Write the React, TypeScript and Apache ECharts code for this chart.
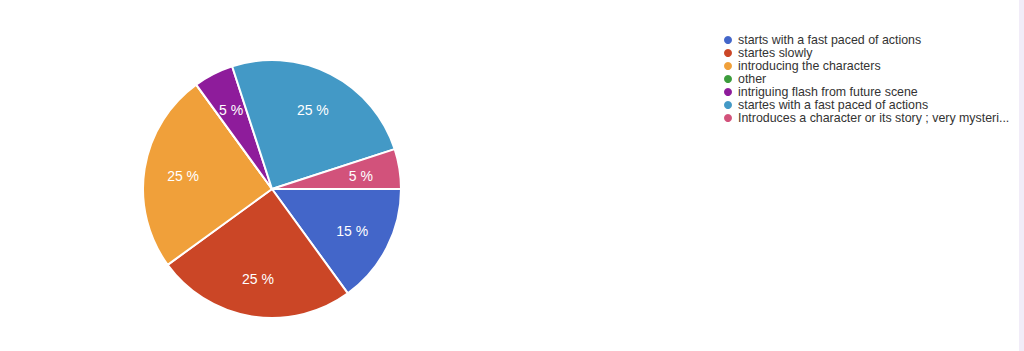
import React, { useEffect, useRef } from "react";
import * as echarts from "echarts";

const categories = [
  "starts with a fast paced of actions",
  "startes slowly",
  "introducing the characters",
  "other",
  "intriguing flash from future scene",
  "startes with a fast paced of actions",
  "Introduces a character or its story ; very mysteri...",
];
const values = [15, 25, 25, 0, 5, 25, 5];
const colors = ["#4366c9", "#cb4626", "#f0a03a", "#3c9c3c", "#8e1c9b", "#4399c6", "#d2527b"];

export default function App() {
  const ref = useRef<HTMLDivElement>(null);
  useEffect(() => {
    if (!ref.current) return;
    const chart = echarts.init(ref.current, null, { renderer: "svg" });
    const data = categories.map((name, i) => ({
      name,
      value: values[i],
      itemStyle: { color: colors[i] },
    }));
    chart.setOption({
      animation: false,
      backgroundColor: "#ffffff",
      graphic: [
        {
          type: "rect",
          shape: { x: 1019, y: 0, width: 5, height: 351 },
          style: { fill: "#f1ecf8" },
          silent: true,
        },
      ],
      legend: {
        orient: "vertical",
        left: 717,
        top: 29,
        icon: "circle",
        itemWidth: 10,
        itemHeight: 10,
        itemGap: 1,
        data: categories,
        textStyle: { fontSize: 12.4, color: "#333333", fontFamily: "Liberation Sans, Arial, sans-serif" },
        selectedMode: false,
      },
      series: [
        {
          type: "pie",
          center: [272, 189],
          radius: [0, 129],
          startAngle: 0,
          clockwise: true,
          data,
          label: { show: false },
          labelLine: { show: false },
          itemStyle: { borderColor: "#ffffff", borderWidth: 2 },
          emphasis: { disabled: true },
          silent: true,
        },
        {
          type: "pie",
          center: [272, 190],
          radius: [45, 129],
          startAngle: 0,
          clockwise: true,
          data: categories.map((name, i) => ({ name, value: values[i], itemStyle: { color: "rgba(0,0,0,0)" } })),
          label: {
            show: true,
            position: "inside",
            color: "#ffffff",
            fontSize: 14,
            fontFamily: "Liberation Sans, Arial, sans-serif",
            formatter: (p: any) => (p.value > 0 ? `${p.value} %` : ""),
          },
          labelLine: { show: false },
          emphasis: { disabled: true },
          silent: true,
        },
      ],
    });
    return () => chart.dispose();
  }, []);
  return (
    <div
      ref={ref}
      style={{ position: "fixed", left: 0, top: 0, width: 1024, height: 351 }}
    />
  );
}
